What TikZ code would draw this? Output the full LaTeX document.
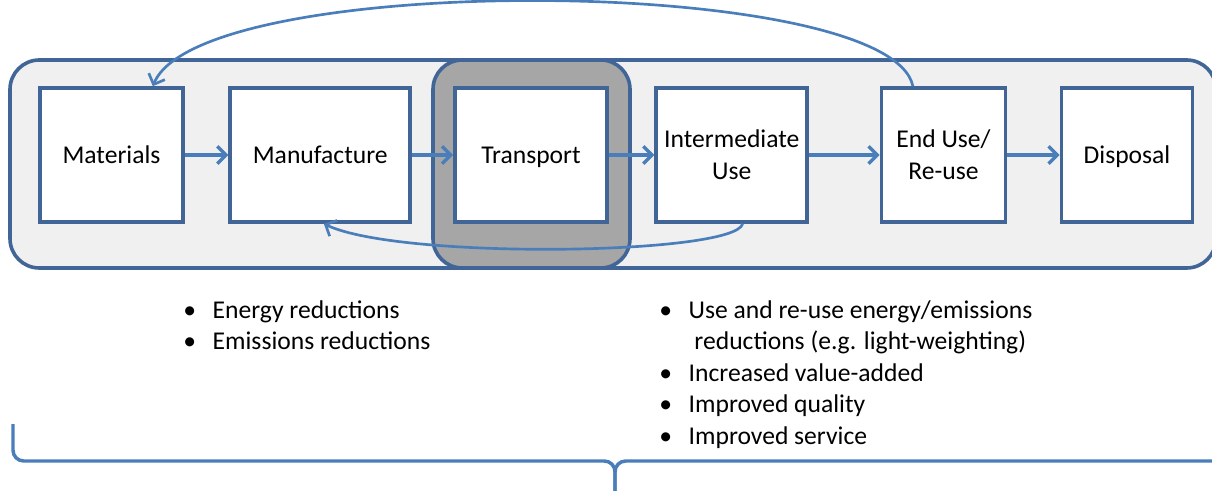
\documentclass[tikz,border=0pt]{standalone}
\usepackage{fontspec}
\setmainfont{Carlito}
\usepackage{xcolor}
\usetikzlibrary{arrows.meta}

\definecolor{boxline}{RGB}{65,101,150}
\definecolor{flowblue}{RGB}{74,126,187}
\definecolor{panel}{RGB}{240,240,240}
\definecolor{hilite}{RGB}{166,166,166}

\begin{document}
\begin{tikzpicture}[x=0.75pt,y=0.75pt,yscale=-1,xscale=1,
  stage/.style={draw=boxline,fill=white,line width=2.7pt,minimum height=100.5pt,inner sep=0pt,align=center,text depth=0pt,font=\fontsize{19.2}{24}\selectfont},
  flowarrow/.style={draw=flowblue,line width=2.6pt,-{Straight Barb[length=6.5pt,width=13pt]}},
  bullets/.style={inner sep=0pt,anchor=north west,font=\fontsize{19.2}{23.6}\selectfont}]
\useasboundingbox (0,0) rectangle (1212,491);

%Shape: Rounded Rect [outer panel]
\draw [draw=boxline,fill=panel,line width=2.7pt,rounded corners=22pt] (10,60) rectangle (1216,268) ;
%Shape: Rounded Rect [transport highlight]
\draw [draw=boxline,fill=hilite,line width=2.7pt,rounded corners=22pt] (433,60) rectangle (630,268) ;

% Stage Nodes
\node [stage,minimum width=107.25pt] (materials) at (111.5,155) {Materials};
\node [stage,minimum width=135pt] (manufacture) at (320.25,155) {Manufacture};
\node [stage,minimum width=114pt] (transport) at (531,155) {Transport};
\node [stage,minimum width=113.25pt] (intermediate) at (731.75,155) {Intermediate\\Use};
\node [stage,minimum width=93pt] (enduse) at (943.5,155) {End Use/\\Re-use};
\node [stage,minimum width=98.25pt] (disposal) at (1127,155) {Disposal};

%Straight Lines
\draw [flowarrow] (materials) -- (manufacture) ;
\draw [flowarrow] (manufacture) -- (transport) ;
\draw [flowarrow] (transport) -- (intermediate) ;
\draw [flowarrow] (intermediate) -- (enduse) ;
\draw [flowarrow] (enduse) -- (disposal) ;

%Curve Lines [re-use loop over the top]
\draw [flowarrow,line width=2pt] (enduse.114) .. controls (890,-25) and (200,-30) .. (materials.59) ;
%Curve Lines [loop back under transport]
\draw [flowarrow,line width=2pt] (intermediate.-81) .. controls (735,255) and (400,260) .. (manufacture.-87) ;

% Text Node
\node [bullets] (savings) at (183,296) {\begin{tabular}{@{}l@{\hspace{12.5pt}}l@{}}
\textbullet & Energy reductions\\
\textbullet & Emissions reductions
\end{tabular}};
% Text Node
\node [bullets] (benefits) at (659,296) {\begin{tabular}{@{}l@{\hspace{12.5pt}}l@{}}
\textbullet & Use and re-use energy/emissions\\
 & \ reductions (e.g. light-weighting)\\
\textbullet & Increased value-added\\
\textbullet & Improved quality\\
\textbullet & Improved service
\end{tabular}};

%Shape: Brace
\draw [draw=flowblue,line width=2.6pt,rounded corners=8pt] (13,424) -- (13,461) -- (615,461) -- (615,496) ;
\draw [draw=flowblue,line width=2.6pt,rounded corners=8pt] (615,496) -- (615,461) -- (1216,461) ;

\end{tikzpicture}
\end{document}
